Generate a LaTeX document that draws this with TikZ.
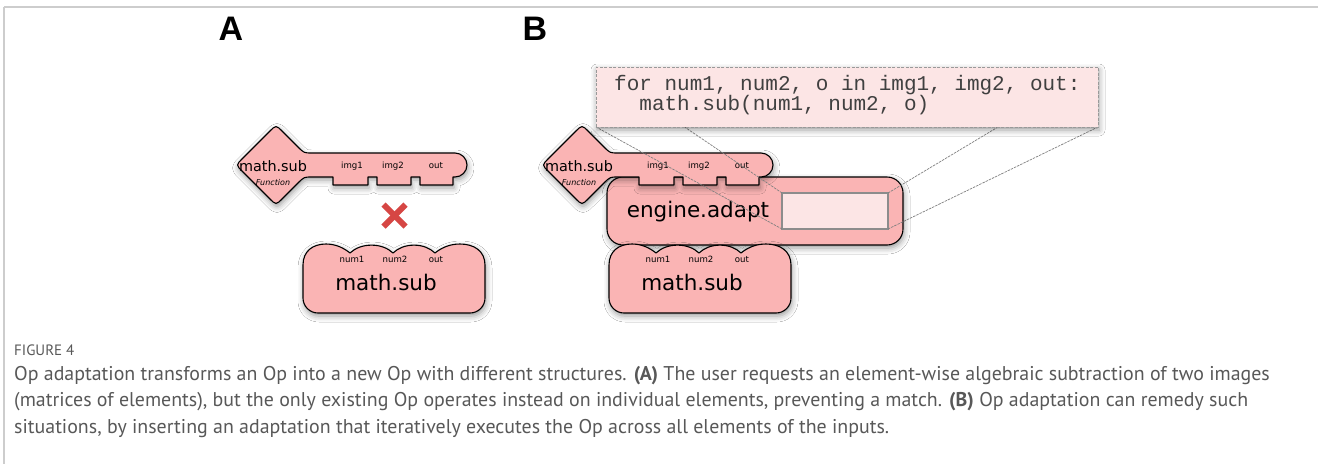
\documentclass[tikz,border=0pt]{standalone}
\usepackage{fontspec}
\setmainfont{DejaVu Sans}
\newfontfamily\capfont{PT Sans}
\newfontfamily\panelfont{Liberation Sans}
\newfontfamily\codefont{Liberation Mono}
\usetikzlibrary{shadows.blur}

\definecolor{oppink}{RGB}{250,180,180}
\definecolor{zoomfill}{RGB}{252,229,229}
\definecolor{crossred}{RGB}{214,70,68}
\definecolor{captext}{RGB}{88,88,88}
\definecolor{rulegray}{RGB}{205,205,205}

\tikzset{
  softshadow/.style={blur shadow={shadow xshift=1pt, shadow yshift=-3pt, shadow blur radius=6pt, shadow opacity=40}},
  opshape/.style={fill=oppink, draw=black, line width=1.1pt, line join=round, softshadow},
  lbl/.style={inner sep=0pt, outer sep=0pt, anchor=base},
  portlbl/.style={lbl, font=\fontsize{8.6}{10}\selectfont},
  bignm/.style={lbl, font=\fontsize{21.5}{24}\selectfont},
  keynm/.style={lbl, font=\fontsize{14.4}{16}\selectfont},
  kindlbl/.style={lbl, font=\fontsize{8}{10}\selectfont\itshape},
  panel/.style={inner sep=0pt, font=\panelfont\bfseries\fontsize{34}{36}\selectfont},
  zoomline/.style={draw=black!50, line width=0.7pt, dash pattern=on 2.5pt off 1pt},
  caption/.style={inner sep=0pt, anchor=base west, text=captext, font=\capfont\fontsize{19.9}{24}\selectfont},
  codeline/.style={inner sep=0pt, anchor=base west, text=black!75, font=\codefont\fontsize{21}{24}\selectfont},
  cross/.style={draw=crossred, line width=6pt}
}

% Key-shaped Op request: rounded diamond head, shaft with three teeth
\newcommand{\keyshape}{%
  \path[opshape] (242.4,158.6) -- (269.6,131.4) .. controls (276,125) .. (282.4,131.4)
    -- (298,147) .. controls (304,153) .. (312,153) -- (455,153)
    .. controls (461.6,153) and (467,158.4) .. (467,165)
    .. controls (467,171.6) and (461.6,177) .. (455,177)
    -- (453,177) -- (453,185) -- (420,185) -- (420,177) -- (411,177) -- (411,185)
    -- (377,185) -- (377,177) -- (368,177) -- (368,185) -- (333,185) -- (333,177)
    -- (312,177) .. controls (304,177) .. (298,183) -- (282.4,198.6)
    .. controls (276,205) .. (269.6,198.6) -- (242.4,171.4)
    .. controls (236,165) .. (242.4,158.6) -- cycle;}

% Lock-shaped Op: rounded box with a scalloped top edge
\newcommand{\lockshape}{%
  \path[opshape] (303,265) .. controls (303,251) and (313,244) .. (326,244)
    .. controls (337,244) and (345,249) .. (350,253)
    .. controls (360.75,242.5) and (382.25,242.5) .. (393,253)
    .. controls (403.5,242.5) and (424.5,242.5) .. (435,253)
    .. controls (440,249) and (448,244) .. (460,244)
    .. controls (474,244) and (485,251) .. (485,265) -- (485,298)
    .. controls (485,306.3) and (478.3,313) .. (470,313) -- (318,313)
    .. controls (309.7,313) and (303,306.3) .. (303,298) -- cycle;}

\begin{document}
\begin{tikzpicture}[x=1pt,y=-1pt]
\useasboundingbox[fill=white] (0,0) rectangle (1318,464);

% frame rules
\draw[rulegray, line width=1.5pt] (4,7) -- (1318,7);
\draw[rulegray, line width=1.5pt] (4,7) -- (4,464);

% panel letters
\node[panel] (lblA) at (231,29) {A};
\node[panel] (lblB) at (535,29) {B};

% ---------- panel A ----------
\keyshape
\node[keynm] (akey) at (273,171) {math.sub};
\node[kindlbl] (akind) at (273,185) {Function};
\node[portlbl] (aimg1) at (352,168) {img1};
\node[portlbl] (aimg2) at (393,168) {img2};
\node[portlbl] (aout) at (436,168) {out};

\draw[cross] (383.5,204.5) -- (405.5,226.5);
\draw[cross] (405.5,204.5) -- (383.5,226.5);
\coordinate (nomatch) at (394.5,215.5);

\lockshape
\node[portlbl] (anum1) at (352,262) {num1};
\node[portlbl] (anum2) at (395,262) {num2};
\node[portlbl] (anumo) at (436,262) {out};
\node[bignm] (aop) at (386,290) {math.sub};

% ---------- panel B ----------
\path[opshape, rounded corners=16pt] (607,177) rectangle (903,245);
\begin{scope}[shift={(306,0)}]
  \lockshape
  \keyshape
\end{scope}
\node[keynm] (bkey) at (579,171) {math.sub};
\node[kindlbl] (bkind) at (579,185) {Function};
\node[portlbl] (bimg1) at (658,168) {img1};
\node[portlbl] (bimg2) at (699,168) {img2};
\node[portlbl] (bout) at (742,168) {out};
\node[bignm] (badapt) at (698,217) {engine.adapt};
\node[portlbl] (bnum1) at (658,262) {num1};
\node[portlbl] (bnum2) at (701,262) {num2};
\node[portlbl] (bnumo) at (742,262) {out};
\node[bignm] (bop) at (692,290) {math.sub};

% zoomed region inside the adapter and its magnified code view
\node[draw=black!45, fill=zoomfill, line width=1.2pt, minimum width=106pt, minimum height=36pt,
      inner sep=0pt, outer sep=0pt] (zoombox) at (835,211) {};
\draw[zoomline] (zoombox.north west) -- (596,67) coordinate (cnw);
\draw[zoomline] (zoombox.south west) -- (596,127) coordinate (csw);
\draw[zoomline] (zoombox.north east) -- (1098,67) coordinate (cne);
\draw[zoomline] (zoombox.south east) -- (1098,127) coordinate (cse);
\node[fill=zoomfill, draw=black!40, line width=1pt, dash pattern=on 3pt off 1.5pt,
      minimum width=502pt, minimum height=60pt, inner sep=0pt, outer sep=0pt, softshadow]
      (callout) at (847,97) {};
\node[codeline] (code1) at (614,90) {for num1, num2, o in img1, img2, out:};
\node[codeline] (code2) at (614,110) {\ \ math.sub(num1, num2, o)};

% ---------- caption ----------
\node[caption, font=\capfont\fontsize{15}{18}\selectfont] (capfig) at (14,355) {FIGURE 4};
\node[caption] (cap1) at (14,380) {Op adaptation transforms an Op into a new Op with different structures. \textbf{(A)} The user requests an element-wise algebraic subtraction of two images};
\node[caption] (cap2) at (14,406) {(matrices of elements), but the only existing Op operates instead on individual elements, preventing a match. \textbf{(B)} Op adaptation can remedy such};
\node[caption] (cap3) at (14,433) {situations, by inserting an adaptation that iteratively executes the Op across all elements of the inputs.};
\end{tikzpicture}
\end{document}
